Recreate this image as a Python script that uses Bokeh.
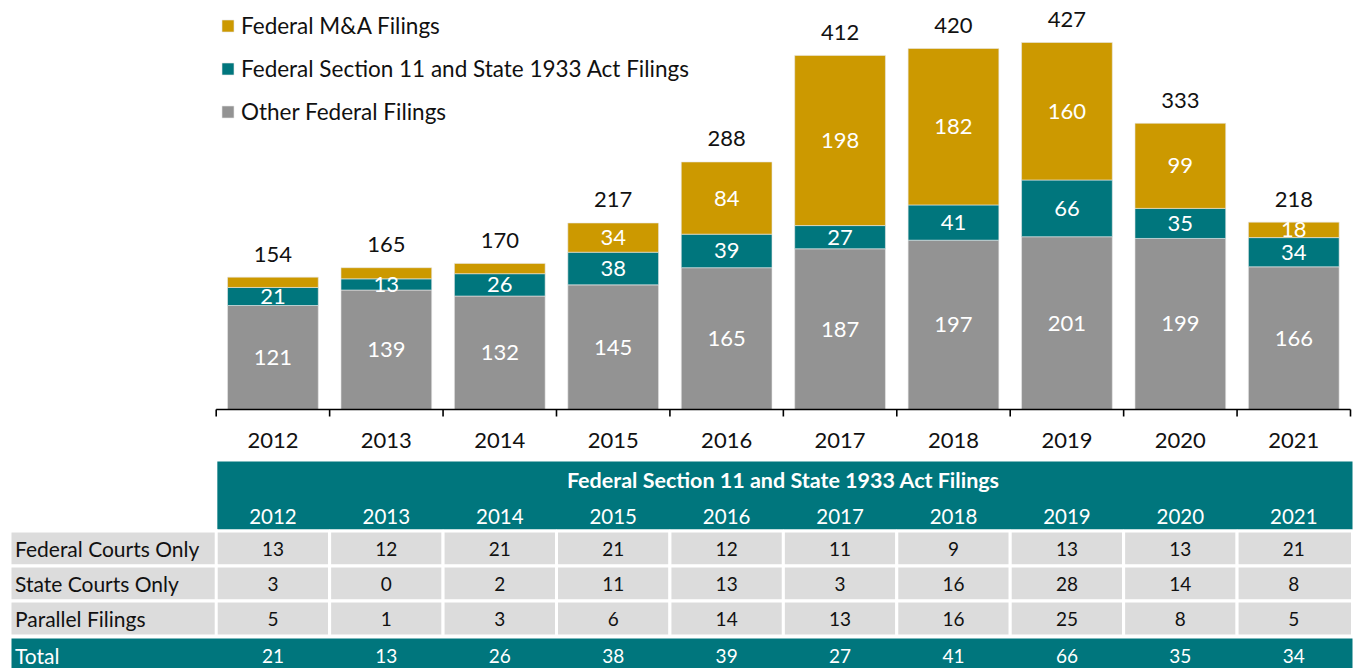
from bokeh.plotting import figure
from bokeh.models import ColumnDataSource, Range1d, Legend, LegendItem
from bokeh.core.properties import value
from bokeh.embed import file_html
from bokeh.resources import INLINE

# ---------------- data ----------------
years = ["2012", "2013", "2014", "2015", "2016", "2017", "2018", "2019", "2020", "2021"]
other_federal = [121, 139, 132, 145, 165, 187, 197, 201, 199, 166]
section11_1933 = [21, 13, 26, 38, 39, 27, 41, 66, 35, 34]
federal_mna = [12, 13, 12, 34, 84, 198, 182, 160, 99, 18]
series_names = ["Federal M&A Filings",
                "Federal Section 11 and State 1933 Act Filings",
                "Other Federal Filings"]

table_title = "Federal Section 11 and State 1933 Act Filings"
row_labels = ["Federal Courts Only", "State Courts Only", "Parallel Filings", "Total"]
federal_courts_only = [13, 12, 21, 21, 12, 11, 9, 13, 13, 21]
state_courts_only = [3, 0, 2, 11, 13, 3, 16, 28, 14, 8]
parallel_filings = [5, 1, 3, 6, 14, 13, 16, 25, 8, 5]
table_totals = section11_1933

# ---------------- style / layout ----------------
GOLD = "#CC9900"
TEAL = "#00767D"
GRAY = "#939393"
CELL = "#DCDCDC"
FONT = value("Lato")
TXT = "#111111"

W, H = 1355, 668
CHART_LEFT = 215.7        # px where the first year column starts
CHART_RIGHT = 1350.0      # px where the last year column ends
n = len(years)
cat_px = (CHART_RIGHT - CHART_LEFT) / n
x0 = -CHART_LEFT / cat_px
x1 = n + (W - CHART_RIGHT) / cat_px
table_right = n + 2 / cat_px

BASE = 409                # px from top of the baseline
PX_PER_FILING = 0.8595
TICK_LEN = 7

y_end = BASE / PX_PER_FILING
y_start = -(H - BASE) / PX_PER_FILING

xs = [i + 0.5 for i in range(n)]
totals = [a + b + c for a, b, c in zip(other_federal, section11_1933, federal_mna)]
src = ColumnDataSource(dict(
    x=xs,
    other=other_federal,
    sec11=section11_1933,
    mna=federal_mna,
    total=totals,
    other_mid=[o / 2 for o in other_federal],
    sec_mid=[o + s / 2 for o, s in zip(other_federal, section11_1933)],
    mna_mid=[o + s + m / 2 for o, s, m in zip(other_federal, section11_1933, federal_mna)],
    other_txt=[str(v) for v in other_federal],
    sec_txt=[str(v) for v in section11_1933],
    mna_txt=[str(v) if v >= 15 else "" for v in federal_mna],
    total_txt=[str(v) for v in totals],
))

p = figure(x_range=Range1d(x0, x1), y_range=Range1d(y_start, y_end),
           width=W, height=H, min_border=0,
           output_backend="svg", toolbar_location=None,
           x_axis_location=None, y_axis_location=None)
p.extra_y_ranges = {"px": Range1d(H, 0)}
p.outline_line_color = None
p.grid.grid_line_color = None

# ---------------- bars ----------------
rs = p.vbar_stack(["other", "sec11", "mna"], x="x", width=0.8,
                  color=[GRAY, TEAL, GOLD], line_color="#E8E8E8", line_width=0.6,
                  source=src)

for col, tcol in [("other_mid", "other_txt"), ("sec_mid", "sec_txt"), ("mna_mid", "mna_txt")]:
    p.text(x="x", y=col, text=tcol, source=src, text_color="white",
           text_font=FONT, text_font_size="22px", text_align="center",
           text_baseline="middle")

p.text(x="x", y="total", text="total_txt", source=src, text_color=TXT,
       text_font=FONT, text_font_size="22px", text_align="center",
       text_baseline="middle", y_offset=-23)

# category axis: baseline, boundary ticks, year labels
bounds = list(range(n + 1))
p.segment(x0=[0], y0=[0], x1=[n], y1=[0], line_color="black", line_width=1.6)
p.segment(x0=bounds, y0=[0] * (n + 1), x1=bounds,
          y1=[-TICK_LEN / PX_PER_FILING] * (n + 1), line_color="black", line_width=1.6)
p.text(x=xs, y=[BASE + 31] * n, y_range_name="px", text=years, text_color=TXT,
       text_font=FONT, text_font_size="22px", text_align="center", text_baseline="middle")

legend = Legend(items=[
    LegendItem(label=series_names[0], renderers=[rs[2]]),
    LegendItem(label=series_names[1], renderers=[rs[1]]),
    LegendItem(label=series_names[2], renderers=[rs[0]]),
], location=(220, H - 11 - 114))
legend.border_line_color = None
legend.background_fill_alpha = 0
legend.label_text_font = "Lato"
legend.label_text_font_size = "22.5px"
legend.label_text_color = TXT
legend.glyph_width = 15
legend.glyph_height = 15
legend.label_height = 28
legend.spacing = 15
legend.padding = 0
legend.margin = 0
legend.label_standoff = 6
p.add_layout(legend)

# ---------------- table ----------------
HEAD_TOP, HEAD_BOTTOM = 461, 529
ROW_BOUNDS = [530.5, 565.5, 600.5, 635.5]
TOTAL_TOP = 638
lab_left = x0 + 9.5 / cat_px
lab_right = 0 + 1.5 / cat_px

p.quad(left=[0.01], right=[table_right], top=[HEAD_TOP], bottom=[HEAD_BOTTOM], y_range_name="px",
       fill_color=TEAL, line_color=None)
p.text(x=[n / 2], y=[HEAD_TOP + 18], y_range_name="px", text=[table_title], text_color="white",
       text_font=FONT, text_font_size="21.5px", text_font_style="bold", text_align="center",
       text_baseline="middle")
p.text(x=xs, y=[HEAD_TOP + 55] * n, y_range_name="px", text=years, text_color="white",
       text_font=FONT, text_font_size="20.5px", text_align="center", text_baseline="middle")

body = [federal_courts_only, state_courts_only, parallel_filings]
for r, vals in enumerate(body):
    top, bottom = ROW_BOUNDS[r], ROW_BOUNDS[r + 1]
    lefts = [lab_left] + list(range(n))
    rights = [lab_right] + list(range(1, n)) + [table_right]
    p.quad(left=lefts, right=rights, top=[top] * (n + 1), bottom=[bottom] * (n + 1),
           y_range_name="px", fill_color=CELL, line_color="white", line_width=3)
    cy = (top + bottom) / 2
    p.text(x=[lab_left], y=[cy], y_range_name="px", text=[row_labels[r]], x_offset=5,
           text_color=TXT, text_font=FONT, text_font_size="21px", text_align="left",
           text_baseline="middle")
    p.text(x=xs, y=[cy] * n, y_range_name="px", text=[str(v) for v in vals],
           text_color=TXT, text_font=FONT, text_font_size="19px", text_align="center",
           text_baseline="middle")

p.quad(left=[x0 + 11 / cat_px], right=[table_right], top=[TOTAL_TOP], bottom=[H + 2],
       y_range_name="px", fill_color=TEAL, line_color=None)
p.text(x=[lab_left], y=[TOTAL_TOP + 17], y_range_name="px", text=[row_labels[3]], x_offset=5,
       text_color="white", text_font=FONT, text_font_size="21px", text_align="left",
       text_baseline="middle")
p.text(x=xs, y=[TOTAL_TOP + 17] * n, y_range_name="px", text=[str(v) for v in table_totals],
       text_color="white", text_font=FONT, text_font_size="19px", text_align="center",
       text_baseline="middle")

open("out.html", "w").write(file_html(p, INLINE))
